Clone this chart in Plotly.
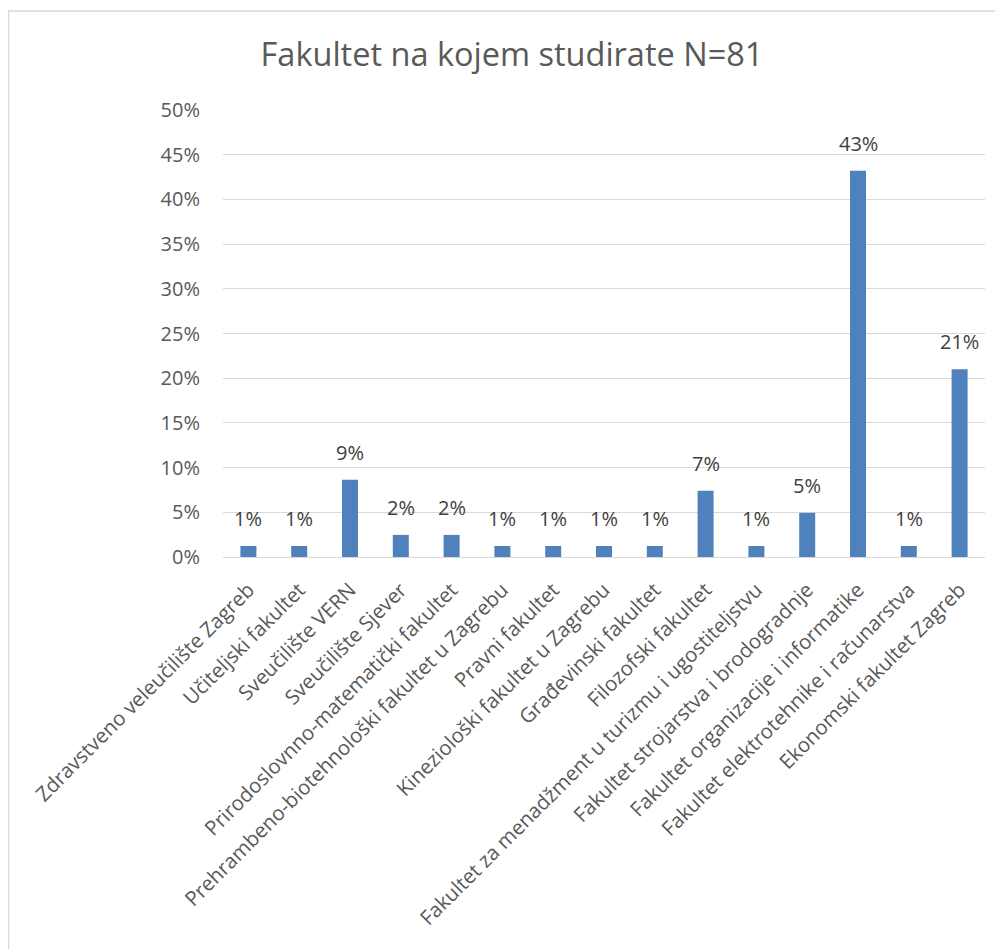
import plotly.graph_objects as go

categories = [
    "Zdravstveno veleučilište Zagreb",
    "Učiteljski fakultet",
    "Sveučilište VERN",
    "Sveučilište Sjever",
    "Prirodoslovnno-matematički fakultet",
    "Prehrambeno-biotehnološki fakultet u Zagrebu",
    "Pravni fakultet",
    "Kineziološki fakultet u Zagrebu",
    "Građevinski fakultet",
    "Filozofski fakultet",
    "Fakultet za menadžment u turizmu i ugostiteljstvu",
    "Fakultet strojarstva i brodogradnje",
    "Fakultet organizacije i informatike",
    "Fakultet elektrotehnike i računarstva",
    "Ekonomski fakultet Zagreb",
]
values = [0.0123, 0.0123, 0.0864, 0.0247, 0.0247, 0.0123, 0.0123, 0.0123,
          0.0123, 0.0741, 0.0123, 0.0494, 0.4321, 0.0123, 0.2099]
y_ticks = [0, 0.05, 0.10, 0.15, 0.20, 0.25, 0.30, 0.35, 0.40, 0.45, 0.50]
title_text = "Fakultet na kojem studirate N=81"

W, H = 1003, 949
ML, MR, MT, MB = 215, 26, 102, 400
TXT = "#595959"
FONT = "Open Sans"

fig = go.Figure()
fig.add_trace(go.Bar(
    x=categories, y=values,
    marker=dict(color="#4F81BD", line=dict(width=0)),
    cliponaxis=False, hoverinfo="skip",
))

for c, v in zip(categories, values):
    fig.add_annotation(x=c, y=v, xref="x", yref="y", text=f"{v:.0%}",
                       showarrow=False, yanchor="bottom", yshift=12,
                       font=dict(family=FONT, size=20, color="#404040"))

pw = W - ML - MR
ph = H - MT - MB
def px2paper_x(px):
    return (px - ML) / pw
def px2paper_y(py):
    return (H - MB - py) / ph

# chart border (left and top edges visible)
fig.add_shape(type="line", xref="paper", yref="paper",
              x0=px2paper_x(0.5), x1=px2paper_x(0.5), y0=px2paper_y(3), y1=px2paper_y(960),
              line=dict(color="#D9D9D9", width=1.5))
fig.add_shape(type="line", xref="paper", yref="paper",
              x0=px2paper_x(0), x1=px2paper_x(1010), y0=px2paper_y(3), y1=px2paper_y(3),
              line=dict(color="#D9D9D9", width=1.5))

fig.update_layout(
    width=W, height=H,
    margin=dict(l=ML, r=MR, t=MT, b=MB, autoexpand=False),
    paper_bgcolor="white", plot_bgcolor="white",
    title=dict(text=title_text, x=504 / W, xref="container", xanchor="center",
               y=1 - 47 / H, yanchor="middle",
               font=dict(family=FONT, size=32.5, color=TXT)),
    bargap=0.685,
    showlegend=False,
    xaxis=dict(
        tickangle=-45, tickfont=dict(family=FONT, size=20.4, color=TXT),
        showgrid=False, showline=True, linecolor="#D9D9D9", linewidth=1,
        ticks="", ticklabelstandoff=12, fixedrange=True,
    ),
    yaxis=dict(
        range=[0, 0.5], tickvals=y_ticks, tickformat=".0%",
        tickfont=dict(family=FONT, size=20, color=TXT),
        showgrid=True, gridcolor="#D9D9D9", gridwidth=1,
        zeroline=False, showline=False, ticks="", ticklabelstandoff=22,
        fixedrange=True,
    ),
)

fig.write_html("out.html")
